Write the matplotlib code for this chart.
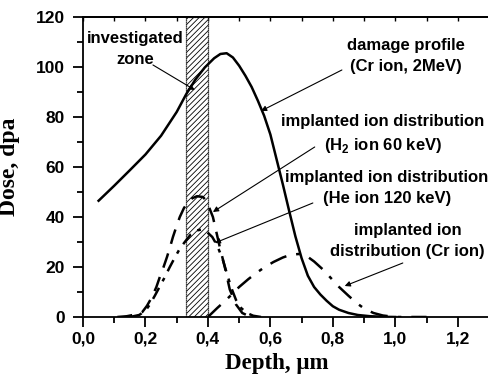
"""Dose vs depth profiles: damage profile and implanted ion distributions."""

import matplotlib

matplotlib.use("Agg")

import matplotlib.pyplot as plt
from matplotlib.ticker import MultipleLocator

# damage profile (Cr ion, 2 MeV)
damage_depth = [0.05, 0.10, 0.15, 0.20, 0.25, 0.30, 0.33, 0.36, 0.39, 0.42,
                0.44, 0.46, 0.48, 0.50, 0.52, 0.54, 0.56, 0.58, 0.60, 0.62,
                0.64, 0.66, 0.68, 0.70, 0.72, 0.74, 0.76, 0.78, 0.80, 0.82,
                0.85, 0.88, 0.92, 0.97, 1.00]
damage_dose = [46.5, 52.5, 58.7, 65.0, 72.5, 82.0, 89.0, 95.0, 99.8, 103.5,
               105.2, 105.5, 103.8, 100.5, 96.5, 92.0, 86.5, 80.5, 73.0, 63.0,
               53.0, 42.5, 32.3, 23.5, 16.5, 12.0, 9.0, 6.5, 4.3, 2.9,
               1.6, 0.8, 0.3, 0.05, 0.0]

# implanted H2 ion distribution (60 keV)
h2_depth = [0.11, 0.14, 0.16, 0.18, 0.19, 0.205, 0.221, 0.235, 0.246, 0.258,
            0.269, 0.28, 0.288, 0.30, 0.31, 0.323, 0.336, 0.35, 0.365, 0.384,
            0.395, 0.405, 0.416, 0.427, 0.438, 0.454, 0.47, 0.49, 0.51, 0.53,
            0.55]
h2_dose = [0.0, 0.3, 0.8, 1.5, 2.0, 4.5, 8.0, 12.0, 16.0, 20.0,
           24.0, 28.5, 32.0, 36.5, 40.0, 43.5, 46.0, 47.5, 48.3, 48.0,
           46.5, 43.5, 40.0, 34.0, 28.0, 20.0, 11.0, 5.0, 1.6, 0.4,
           0.0]

# implanted He ion distribution (120 keV)
he_depth = [0.15, 0.18, 0.20, 0.214, 0.23, 0.245, 0.26, 0.278, 0.295, 0.31,
            0.326, 0.345, 0.364, 0.38, 0.397, 0.414, 0.43, 0.448, 0.464, 0.477,
            0.49, 0.507, 0.525, 0.545, 0.57]
he_dose = [0.0, 0.8, 2.5, 5.0, 8.5, 12.0, 15.5, 20.0, 24.0, 27.3,
           30.0, 33.0, 34.6, 35.0, 34.0, 32.0, 28.5, 22.8, 16.0, 11.0,
           6.8, 3.5, 1.6, 0.5, 0.0]

# implanted Cr ion distribution
cr_depth = [0.40, 0.43, 0.46, 0.50, 0.53, 0.555, 0.58, 0.61, 0.64, 0.663,
            0.69, 0.716, 0.74, 0.77, 0.795, 0.82, 0.85, 0.876, 0.90, 0.93,
            0.96, 1.00, 1.10]
cr_dose = [0.0, 3.6, 7.0, 12.0, 15.2, 17.6, 19.8, 22.0, 23.8, 24.8,
           25.2, 24.4, 22.2, 18.8, 15.4, 12.0, 8.5, 5.6, 3.4, 1.6,
           0.6, 0.0, 0.0]

zone = [0.33, 0.40]

x_ticks = [0.0, 0.2, 0.4, 0.6, 0.8, 1.0, 1.2]
x_tick_labels = ["0,0", "0,2", "0,4", "0,6", "0,8", "1,0", "1,2"]
y_ticks = [0, 20, 40, 60, 80, 100, 120]

plt.rcParams["font.family"] = ["Liberation Sans", "DejaVu Sans"]
plt.rcParams["mathtext.fontset"] = "custom"
plt.rcParams["mathtext.rm"] = "Liberation Sans:bold"
plt.rcParams["mathtext.bf"] = "Liberation Sans:bold"
plt.rcParams["hatch.linewidth"] = 0.6

fig = plt.figure(figsize=(4.89, 3.78), dpi=100)
ax = fig.add_axes([0.1697, 0.1614, 0.8303, 0.7937])

ax.axvspan(zone[0], zone[1], facecolor="white", edgecolor="black",
           hatch="//////", linewidth=0.9, linestyle=(0, (1, 0.6)), zorder=1)

ax.plot(damage_depth, damage_dose, color="black", lw=1.8, zorder=3)
ax.plot(h2_depth, h2_dose, color="black", lw=1.8, dashes=(6, 4), zorder=3)
ax.plot(he_depth, he_dose, color="black", lw=1.8, dashes=(5, 3, 1.5, 3), zorder=3)
ax.plot(cr_depth, cr_dose, color="black", lw=1.8, dashes=(7, 4, 1.5, 4), zorder=3)

ax.set_xlim(0, 1.3)
ax.set_ylim(0, 120)

text_kw = dict(fontsize=12, fontweight="bold", ha="center", va="center",
               linespacing=1.5)
arrow_kw = dict(arrowstyle="-|>", color="black", lw=0.8, mutation_scale=8,
                shrinkA=0, shrinkB=0)

ax.text(0.166, 107.2, "investigated\nzone", **text_kw)
ax.annotate("", xy=(0.358, 90.8), xytext=(0.224, 100.8), arrowprops=arrow_kw)

ax.text(1.034, 104.4, "damage profile\n(Cr ion, 2MeV)", **text_kw)
ax.annotate("", xy=(0.570, 82.4), xytext=(0.829, 98.8), arrowprops=arrow_kw)

ax.text(0.96, 72.8, "implanted ion distribution\n(H$_{2}$ ion 60 keV)", **text_kw)
ax.annotate("", xy=(0.416, 42.0), xytext=(0.742, 68.0), arrowprops=arrow_kw)

ax.text(0.973, 51.6, "implanted ion distribution\n(He ion 120 keV)", **text_kw)
ax.annotate("", xy=(0.422, 29.6), xytext=(0.736, 45.6), arrowprops=arrow_kw)

ax.text(1.04, 30.4, "implanted ion\ndistribution (Cr ion)", **text_kw)
ax.annotate("", xy=(0.838, 12.4), xytext=(1.024, 21.6), arrowprops=arrow_kw)

ax.set_xticks(x_ticks)
ax.set_xticklabels(x_tick_labels)
ax.set_yticks(y_ticks)
ax.xaxis.set_minor_locator(MultipleLocator(0.1))
ax.yaxis.set_minor_locator(MultipleLocator(10))
ax.tick_params(which="major", direction="out", length=7, width=1.3,
               labelsize=12.5)
ax.tick_params(axis="y", which="major", pad=6)
ax.tick_params(which="minor", direction="out", length=4, width=1.3)
for lab in ax.get_xticklabels() + ax.get_yticklabels():
    lab.set_fontweight("bold")

top = ax.secondary_xaxis("top")
top.set_xticks(x_ticks)
top.xaxis.set_minor_locator(MultipleLocator(0.1))
top.tick_params(which="both", direction="in", length=3, width=1.0,
                labeltop=False)
top.spines["top"].set_linewidth(1.3)

ax.spines["right"].set_visible(False)
for side in ("left", "bottom", "top"):
    ax.spines[side].set_linewidth(1.3)

serif = ["Liberation Serif", "DejaVu Serif"]
ax.set_xlabel("Depth, \u03bcm", family=serif, fontsize=16.5, fontweight="bold")
ax.set_ylabel("Dose, dpa", family=serif, fontsize=17, fontweight="bold")
ax.xaxis.set_label_coords(0.62 / 1.3, -0.12)
ax.yaxis.set_label_coords(-0.155, 0.5)

fig.savefig("out.png", dpi=100)
plt.close(fig)
